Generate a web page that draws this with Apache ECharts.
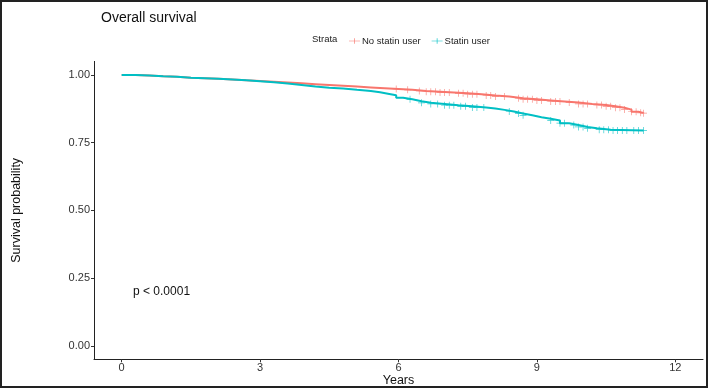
<!DOCTYPE html>
<html>
<head>
<meta charset="utf-8">
<script src="https://cdn.jsdelivr.net/npm/echarts@6/dist/echarts.min.js"></script>
<style>
  html, body { margin: 0; padding: 0; background: #fff; }
  #chart { width: 709px; height: 389px; }
</style>
</head>
<body>
<div id="chart"></div>
<script>
// Kaplan-Meier curves (years, survival)
const noStatinTimes = [0, 0.3, 0.6, 0.9, 1.2, 1.5, 1.8, 2.1, 2.4, 2.7, 3.0, 3.3, 3.6, 3.9, 4.2, 4.5, 4.8, 5.1, 5.4, 5.7, 6.0, 6.3, 6.6, 6.9, 7.2, 7.5, 7.8, 8.1, 8.4, 8.7, 9.0, 9.3, 9.6, 9.9, 10.2, 10.5, 10.7, 10.9, 11.05, 11.2, 11.31];
const noStatinSurv  = [1.000, 0.998, 0.995, 0.993, 0.990, 0.988, 0.986, 0.983, 0.980, 0.978, 0.975, 0.972, 0.969, 0.966, 0.963, 0.960, 0.957, 0.954, 0.951, 0.948, 0.945, 0.941, 0.938, 0.935, 0.932, 0.929, 0.924, 0.920, 0.914, 0.910, 0.906, 0.902, 0.898, 0.893, 0.889, 0.884, 0.879, 0.872, 0.864, 0.860, 0.859];

const statinTimes = [0, 0.3, 0.6, 0.9, 1.2, 1.5, 1.8, 2.1, 2.4, 2.7, 3.0, 3.3, 3.6, 3.9, 4.2, 4.5, 4.8, 5.1, 5.4, 5.6, 5.8, 5.95, 6.1, 6.3, 6.5, 6.7, 7.0, 7.3, 7.6, 7.9, 8.1, 8.3, 8.5, 8.7, 8.9, 9.1, 9.3, 9.5, 9.7, 9.9, 10.1, 10.3, 10.6, 11.31];
const statinSurv  = [1.000, 0.998, 0.995, 0.993, 0.990, 0.988, 0.986, 0.983, 0.980, 0.977, 0.973, 0.968, 0.963, 0.957, 0.953, 0.950, 0.945, 0.941, 0.936, 0.930, 0.925, 0.916, 0.910, 0.903, 0.897, 0.893, 0.888, 0.884, 0.880, 0.876, 0.871, 0.865, 0.858, 0.851, 0.844, 0.838, 0.832, 0.822, 0.815, 0.808, 0.803, 0.798, 0.795, 0.795];

// censoring marks (years)
const noStatinCensor = [5.95, 6.2, 6.45, 6.6, 6.7, 6.8, 6.9, 7.0, 7.1, 7.3, 7.4, 7.5, 7.6, 7.7, 7.9, 8.0, 8.1, 8.3, 8.6, 8.7, 8.8, 8.9, 9.0, 9.1, 9.3, 9.4, 9.5, 9.7, 9.9, 10.0, 10.1, 10.3, 10.4, 10.5, 10.6, 10.7, 10.8, 10.9, 11.05, 11.15, 11.25, 11.31];
const statinCensor = [6.25, 6.5, 6.7, 6.85, 7.0, 7.1, 7.2, 7.35, 7.45, 7.6, 7.7, 7.85, 8.4, 8.6, 8.7, 9.3, 9.5, 9.6, 9.8, 9.9, 10.0, 10.1, 10.35, 10.45, 10.55, 10.65, 10.75, 10.85, 10.95, 11.1, 11.2, 11.31];

const xTicks = [0, 3, 6, 9, 12];
const yTicks = [0, 0.25, 0.5, 0.75, 1];

const RED = '#F8766D';
const TEAL = '#00BFC4';
const FONT = 'Liberation Sans';

function pairs(t, s) { return t.map((v, i) => [v, s[i]]); }
// survival value of a step curve at time x
function stepAt(t, s, x) {
  let v = s[0];
  for (let i = 0; i < t.length; i++) { if (t[i] <= x) v = s[i]; }
  return v;
}
const crossIcon = 'path://M0,4.4h20v1.2h-20z M9.4,0h1.2v10h-1.2z';
const markIcon = 'path://M0,4.5h10v1h-10z M4.5,0h1v10h-1z';

const chart = echarts.init(document.getElementById('chart'));
chart.setOption({
  animation: false,
  textStyle: { fontFamily: FONT },
  grid: { left: 94, right: 6, top: 61.4, bottom: 29.7, containLabel: false, outerBoundsMode: 'none' },
  title: {
    text: 'Overall survival', left: 96, top: 6,
    textStyle: { fontFamily: FONT, fontSize: 14, fontWeight: 'normal', color: '#111' }
  },
  legend: {
    left: 344, top: 31, itemWidth: 11, itemHeight: 8, itemGap: 11,
    textStyle: { fontFamily: FONT, fontSize: 9.5, color: '#222', padding: [0, 0, 0, -3] },
    data: [
      { name: 'No statin user', icon: crossIcon, itemStyle: { color: RED } },
      { name: 'Statin user', icon: crossIcon, itemStyle: { color: TEAL } }
    ]
  },
  xAxis: {
    type: 'value', min: -0.6, max: 12.6,
    name: 'Years', nameLocation: 'middle', nameGap: 15, nameMoveOverlap: false,
    nameTextStyle: { fontFamily: FONT, fontSize: 12.5, color: '#111', verticalAlign: 'top' },
    splitLine: { show: false },
    axisLine: { show: true, onZero: false, lineStyle: { color: '#222', width: 1 } },
    axisTick: { show: true, customValues: xTicks, length: 3, lineStyle: { color: '#333' } },
    axisLabel: { customValues: xTicks, fontSize: 11, color: '#333', margin: 3 }
  },
  yAxis: {
    type: 'value', min: -0.05, max: 1.05,
    name: 'Survival probability', nameLocation: 'middle', nameGap: 71, nameRotate: 90,
    nameMoveOverlap: false,
    nameTextStyle: { fontFamily: FONT, fontSize: 12.5, color: '#111' },
    splitLine: { show: false },
    axisLine: { show: true, onZero: false, lineStyle: { color: '#222', width: 1 } },
    axisTick: { show: true, customValues: yTicks, length: 3, lineStyle: { color: '#333' } },
    axisLabel: { customValues: yTicks, fontSize: 11, color: '#333', margin: 4,
      formatter: v => v.toFixed(2) }
  },
  graphic: [
    { type: 'text', left: 133, top: 286,
      style: { text: 'p < 0.0001', fontFamily: FONT, fontSize: 12, fill: '#111' } },
    { type: 'text', left: 312, top: 34,
      style: { text: 'Strata', fontFamily: FONT, fontSize: 9.5, fill: '#222' } },
    { type: 'rect', shape: { x: 1, y: 1, width: 706, height: 386 },
      style: { fill: 'none', stroke: '#222', lineWidth: 2 }, silent: true }
  ],
  series: [
    { name: 'No statin user', type: 'line', step: 'end', showSymbol: false,
      data: pairs(noStatinTimes, noStatinSurv),
      lineStyle: { color: RED, width: 2 }, itemStyle: { color: RED }, z: 3 },
    { name: 'Statin user', type: 'line', step: 'end', showSymbol: false,
      data: pairs(statinTimes, statinSurv),
      lineStyle: { color: TEAL, width: 2 }, itemStyle: { color: TEAL }, z: 3 },
    { name: 'No statin user', type: 'scatter', symbol: markIcon, symbolSize: 7, silent: true,
      data: noStatinCensor.map(x => [x, stepAt(noStatinTimes, noStatinSurv, x)]),
      itemStyle: { color: RED }, z: 4 },
    { name: 'Statin user', type: 'scatter', symbol: markIcon, symbolSize: 7, silent: true,
      data: statinCensor.map(x => [x, stepAt(statinTimes, statinSurv, x)]),
      itemStyle: { color: TEAL }, z: 4 }
  ]
});
</script>
</body>
</html>
